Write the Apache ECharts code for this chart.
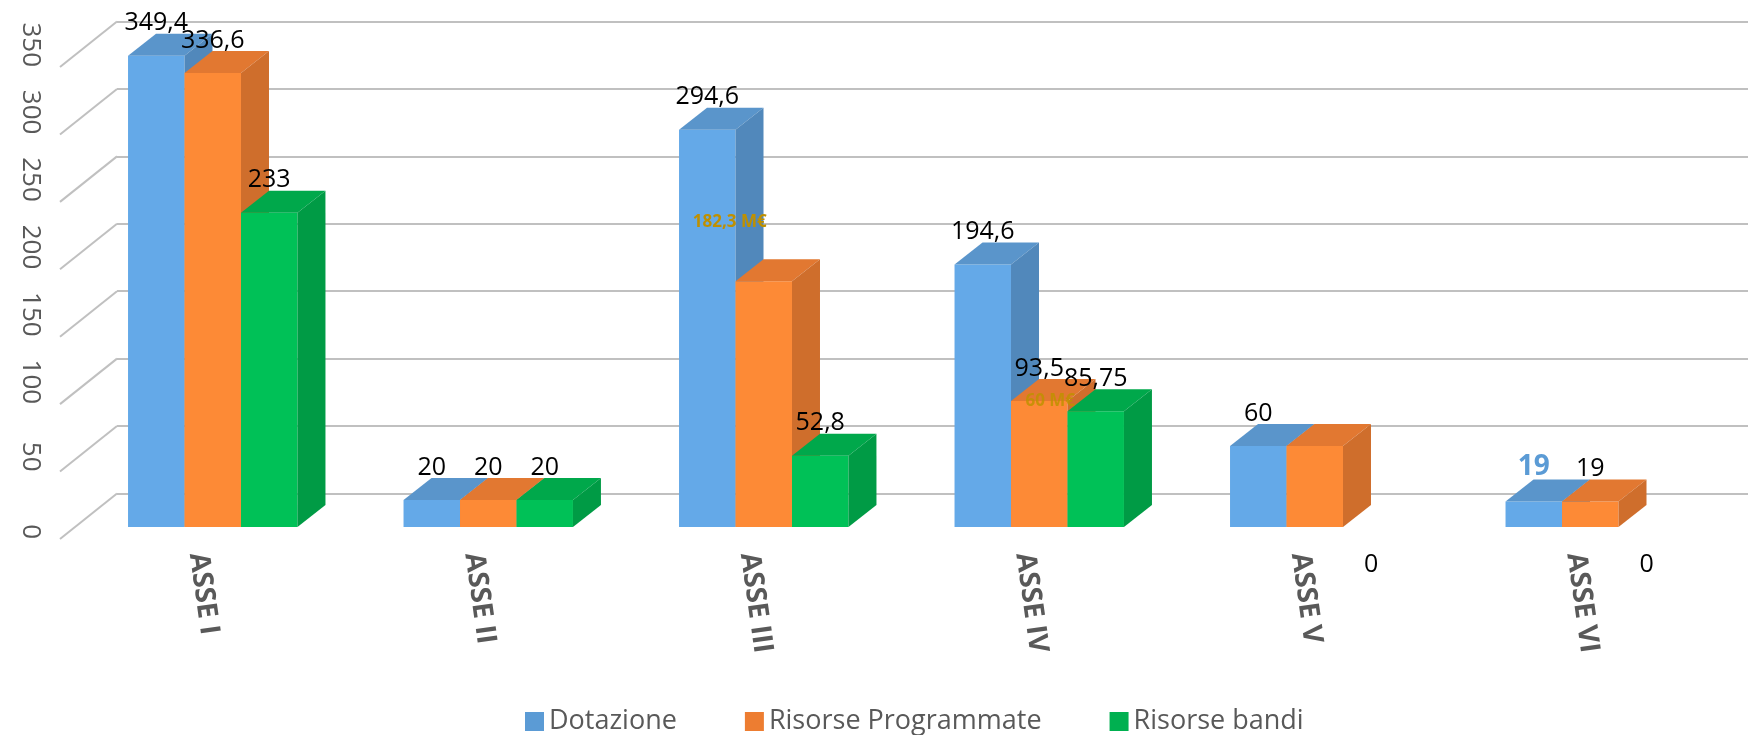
<!DOCTYPE html>
<html>
<head>
<meta charset="utf-8">
<script src="https://cdn.jsdelivr.net/npm/echarts@6/dist/echarts.min.js"></script>
<style>
  html, body { margin: 0; padding: 0; background: #fff; }
  #chart { width: 1748px; height: 735px; }
</style>
</head>
<body>
<div id="chart"></div>
<script>
// --- dati ---
const categories = ['ASSE I', 'ASSE II', 'ASSE III', 'ASSE IV', 'ASSE V', 'ASSE VI'];
const yTicks = [0, 50, 100, 150, 200, 250, 300, 350];
const seriesNames = ['Dotazione', 'Risorse Programmate', 'Risorse bandi'];

const dotazione = [349.4, 20, 294.6, 194.6, 60, 19];
const risorseProgrammate = [336.6, 20, 182.3, 93.5, 60, 19];
const risorseBandi = [233, 20, 52.8, 85.75, 0, 0];

const labelsDotazione = ['349,4', '20', '294,6', '194,6', '60', '19'];
const labelsProgrammate = ['336,6', '20', '182,3 M€', '93,5', '', '19'];
const labelsBandi = ['233', '20', '52,8', '85,75', '0', '0'];

// nota aggiunta a mano sul grafico
const notes = [['ASSE IV', 93.5, '60 M€']];

// --- stile 3D ---
const FONT = "'Open Sans', sans-serif";
const DEPTH_X = 28, DEPTH_Y = -22;      // profondità barre
const WALL_X = 42, WALL_Y = -33.5;      // parete di fondo
const EDGE_X = -15, EDGE_Y = 12;        // bordo anteriore del pavimento
const GRID_COLOR = '#c0c0c0';

const palette = [
    { front: '#64a9e8', top: '#5a95cb', side: '#5188bb', legend: '#5b9bd5' },
    { front: '#fd8a36', top: '#e27831', side: '#cf6e2c', legend: '#ed7d31' },
    { front: '#00c157', top: '#00a84b', side: '#009b45', legend: '#00b050' }
];

// etichette con stile particolare: "serie|indice"
const labelStyles = {
    '1|2': { fill: '#bf9000', fontSize: 17, fontWeight: 'bold', dx: -34, dy: -39, verticalAlign: 'middle' },
    '0|5': { fill: '#5b9bd5', fontSize: 28, fontWeight: 'bold' }
};

function barSeries(slot, values, labels) {
    const col = palette[slot];
    return {
        name: seriesNames[slot],
        type: 'custom',
        z: 3 + slot,
        itemStyle: { color: col.legend },
        data: values.map((v, i) => [i, v]),
        renderItem: (params, api) => {
            const i = api.value(0), v = api.value(1);
            const c = api.coord([i, v]);
            const base = api.coord([i, 0]);
            const bw = api.size([1, 0])[0] * 0.205;
            const left = c[0] - 1.5 * bw + slot * bw;
            const right = left + bw;
            const top = c[1], bottom = base[1];
            const children = [];
            if (v > 0) {
                children.push({
                    type: 'rect',
                    shape: { x: left, y: top, width: bw, height: bottom - top },
                    style: { fill: col.front }
                });
                children.push({
                    type: 'polygon',
                    shape: { points: [[left, top], [left + DEPTH_X, top + DEPTH_Y], [right + DEPTH_X, top + DEPTH_Y], [right, top]] },
                    style: { fill: col.top }
                });
                children.push({
                    type: 'polygon',
                    shape: { points: [[right, top], [right + DEPTH_X, top + DEPTH_Y], [right + DEPTH_X, bottom + DEPTH_Y], [right, bottom]] },
                    style: { fill: col.side }
                });
            }
            const txt = labels[i];
            if (txt) {
                const o = labelStyles[slot + '|' + i] || {};
                const cx = (left + right) / 2 + (o.dx || 0);
                let y, va;
                if (v > 0) {
                    y = top + DEPTH_Y + 2 + (o.dy || 0);
                    va = o.verticalAlign || 'bottom';
                } else {
                    y = bottom + 38;
                    va = 'middle';
                }
                children.push({
                    type: 'text',
                    z2: 10,
                    style: {
                        text: txt, x: cx, y: y,
                        align: 'center', verticalAlign: va,
                        fill: o.fill || '#000',
                        fontSize: o.fontSize || 25,
                        fontWeight: o.fontWeight || 'normal',
                        fontFamily: FONT
                    }
                });
            }
            return { type: 'group', children: children };
        }
    };
}

const chart = echarts.init(document.getElementById('chart'));

const yBase = { type: 'value', min: 0, max: 350, interval: 50, axisLine: { show: false }, axisTick: { show: false } };
const xBase = { type: 'category', data: categories, axisLine: { show: false }, axisTick: { show: false } };

chart.setOption({
    backgroundColor: '#fff',
    animation: false,
    grid: [
        // piano frontale delle barre
        { left: 75, right: 20, top: 55, bottom: 208, outerBoundsMode: 'none' },
        // bordo anteriore (etichette)
        { left: 60, right: 35, top: 67, bottom: 196, outerBoundsMode: 'none' },
        // parete di fondo (griglia)
        { left: 117, right: 0, top: 21.5, bottom: 241.5, outerBoundsMode: 'none' }
    ],
    xAxis: [
        Object.assign({}, xBase, { gridIndex: 0, axisLabel: { show: false } }),
        Object.assign({}, xBase, {
            gridIndex: 1,
            axisLabel: {
                interval: 0, rotate: -82, align: 'left', verticalAlign: 'middle', margin: 14,
                fontSize: 28, fontWeight: 'bold', color: '#595959', fontFamily: FONT
            }
        }),
        Object.assign({}, xBase, { gridIndex: 2, axisLabel: { show: false } })
    ],
    yAxis: [
        Object.assign({}, yBase, { gridIndex: 0, axisLabel: { show: false }, splitLine: { show: false } }),
        Object.assign({}, yBase, {
            gridIndex: 1, splitLine: { show: false },
            axisLabel: {
                rotate: -90, align: 'right', verticalAlign: 'middle', margin: 30,
                showMinLabel: true, showMaxLabel: true,
                fontSize: 26, color: '#595959', fontFamily: FONT
            }
        }),
        Object.assign({}, yBase, {
            gridIndex: 2, axisLabel: { show: false },
            splitLine: { show: true, lineStyle: { color: GRID_COLOR, width: 2 } }
        })
    ],
    legend: {
        data: seriesNames,
        left: 520, top: 703,
        icon: 'rect', itemWidth: 19, itemHeight: 19, itemGap: 68,
        textStyle: { fontSize: 27, color: '#595959', fontFamily: FONT }
    },
    series: [
        {
            name: 'pareti',
            type: 'custom',
            silent: true,
            z: 1,
            data: yTicks.map(v => [0, v]),
            renderItem: (params, api) => {
                const y = api.coord([0, api.value(1)])[1];
                const x0 = params.coordSys.x;
                return {
                    type: 'line',
                    shape: { x1: x0 + EDGE_X, y1: y + EDGE_Y, x2: x0 + WALL_X, y2: y + WALL_Y },
                    style: { stroke: GRID_COLOR, lineWidth: 2 }
                };
            }
        },
        barSeries(0, dotazione, labelsDotazione),
        barSeries(1, risorseProgrammate, labelsProgrammate),
        barSeries(2, risorseBandi, labelsBandi),
        {
            name: 'note',
            type: 'custom',
            silent: true,
            z: 10,
            data: notes.map(n => [categories.indexOf(n[0]), n[1], n[2]]),
            renderItem: (params, api) => {
                const c = api.coord([api.value(0), api.value(1)]);
                const n = notes[params.dataIndex];
                return {
                    type: 'text',
                    style: {
                        text: n[2], x: c[0] + 11, y: c[1],
                        align: 'center', verticalAlign: 'middle',
                        fill: '#bf9000', opacity: 0.85,
                        fontSize: 17, fontWeight: 'bold', fontFamily: FONT
                    }
                };
            }
        }
    ]
});

window.addEventListener('resize', () => chart.resize());
</script>
</body>
</html>
